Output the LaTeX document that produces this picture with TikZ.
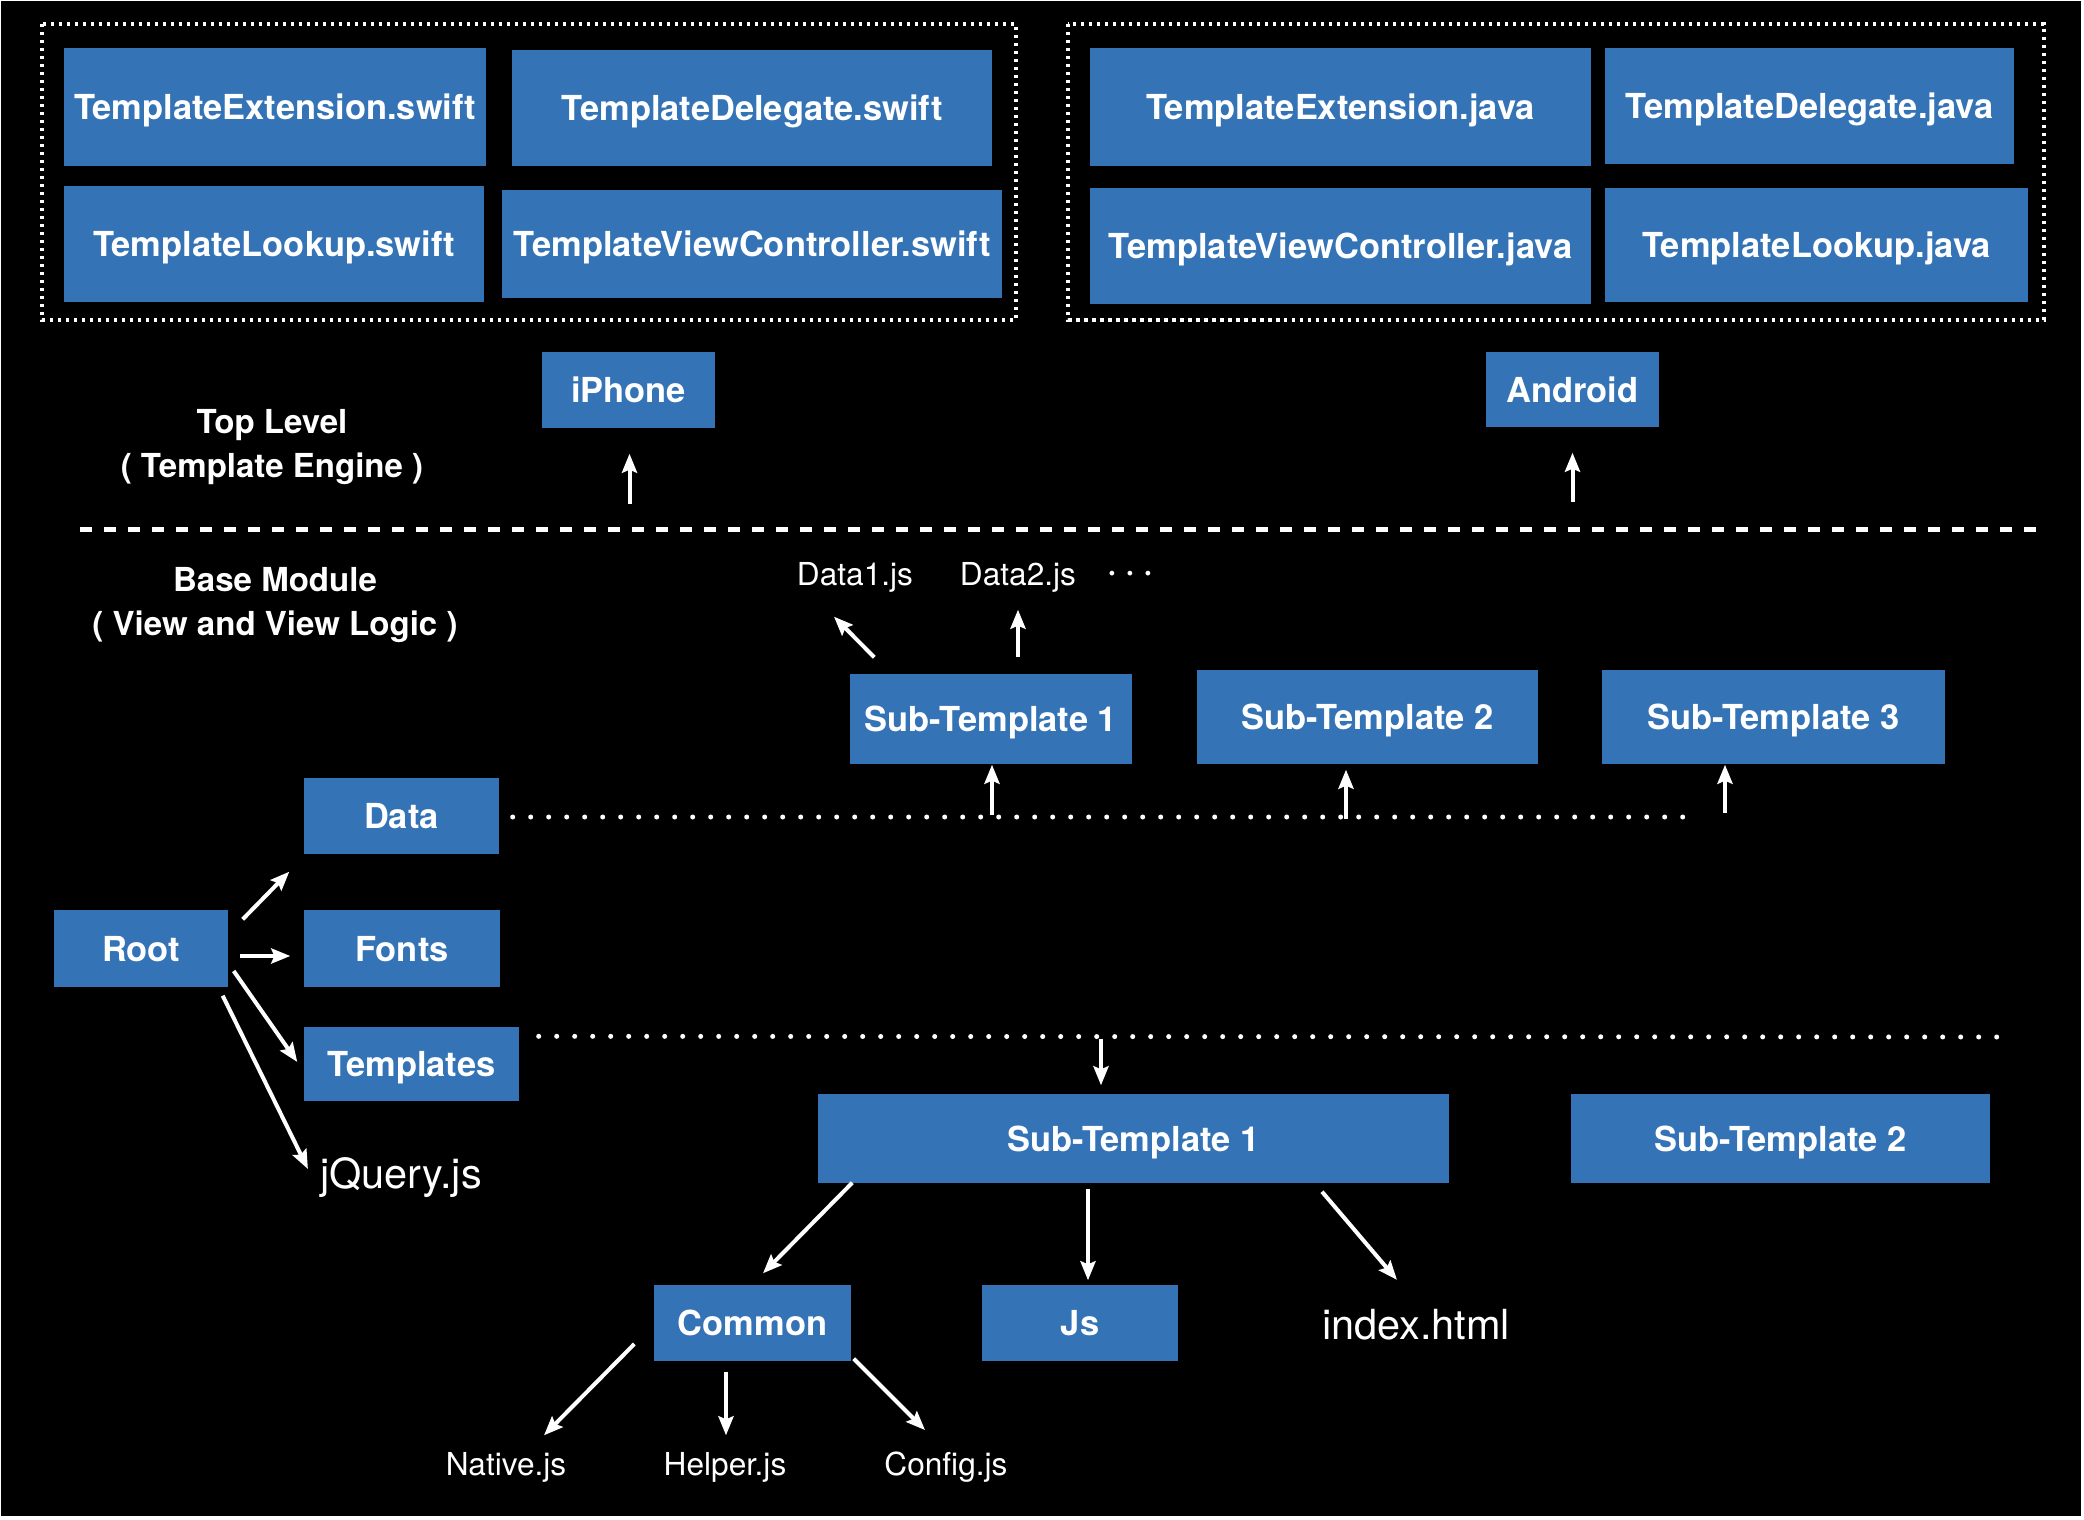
\documentclass[tikz,border=0pt]{standalone}
\usepackage{fontspec}
\setmainfont{TeX Gyre Heros}
\usetikzlibrary{arrows.meta}
\definecolor{tileblue}{HTML}{3473B5}

\tikzset{
  tile/.style={fill=tileblue, text=white, inner sep=0pt, text depth=0pt, font=\fontsize{9.8}{12}\selectfont\bfseries},
  tilesize/.style 2 args={minimum width=#1, minimum height=#2},
  plain/.style={text=white, inner sep=0pt, font=\fontsize{9}{11}\selectfont},
  bigplain/.style={text=white, inner sep=0pt, font=\fontsize{11.8}{14}\selectfont},
  caption/.style={text=white, align=center, inner sep=0pt, font=\fontsize{9.4}{12.5}\selectfont\bfseries},
  arr/.style={draw=white, line width=0.4mm, -{Stealth[length=1.9mm,width=1.5mm,inset=0.3mm]}},
  groupline/.style={draw=white, line width=0.35mm, dash pattern=on 0.35mm off 0.45mm},
  dotline/.style={draw=white, line width=0.5mm, line cap=round, dash pattern=on 0pt off 1.8mm},
  divline/.style={draw=white, line width=0.5mm, dash pattern=on 1.2mm off 1.2mm},
}

\begin{document}
\begin{tikzpicture}[x=0.1mm, y=-0.1mm]
  % canvas
  \fill[white] (0,0) rectangle (2084,1520);
  \fill[black] (1,1) rectangle (2081,1516);
  \useasboundingbox (0,0) rectangle (2084,1520);

  % iOS sources
  \draw[groupline] (42,24) rectangle (1016,320);
  \node[tile, tilesize={4.22cm}{1.18cm}] (extswift) at (275,107) {TemplateExtension.swift};
  \node[tile, tilesize={4.80cm}{1.16cm}] (delswift) at (752,108) {TemplateDelegate.swift};
  \node[tile, tilesize={4.20cm}{1.16cm}] (lookswift) at (274,244) {TemplateLookup.swift};
  \node[tile, tilesize={5.00cm}{1.08cm}] (vcswift) at (752,244) {TemplateViewController.swift};

  % Android sources
  \draw[groupline] (1068,24) rectangle (2044,320);
  \node[tile, tilesize={5.01cm}{1.18cm}] (extjava) at (1340.5,107) {TemplateExtension.java};
  \node[tile, tilesize={4.09cm}{1.16cm}] (deljava) at (1809.5,106) {TemplateDelegate.java};
  \node[tile, tilesize={5.01cm}{1.16cm}] (vcjava) at (1340.5,246) {TemplateViewController.java};
  \node[tile, tilesize={4.23cm}{1.14cm}] (lookjava) at (1816.5,245) {TemplateLookup.java};

  % Top level
  \node[tile, tilesize={1.73cm}{0.76cm}] (iphone) at (628.5,390) {iPhone};
  \node[tile, tilesize={1.73cm}{0.75cm}] (android) at (1572.5,389.5) {Android};
  \node[caption] (toplevel) at (272,447) {Top Level\\( Template Engine )};
  \draw[arr] ([shift={(1,75)}]iphone.south) -- ([shift={(1,25)}]iphone.south);
  \draw[arr] ([shift={(0,74)}]android.south) -- ([shift={(0,25)}]android.south);

  % divider
  \draw[divline] (80,529) -- (2036,529);

  % Base module
  \node[caption] (basemodule) at (275,605) {Base Module\\( View and View Logic )};
  \node[plain] (data1) at (855,577) {Data1.js};
  \node[plain] (data2) at (1018,577) {Data2.js};
  \node[plain, font=\fontsize{9}{11}\selectfont\bfseries] (moredata) at (1130,576) {·\hspace{2.6pt}·\hspace{2.6pt}·};

  \node[tile, tilesize={2.82cm}{0.90cm}] (subA1) at (991,719) {Sub-Template 1};
  \node[tile, tilesize={3.41cm}{0.94cm}] (subA2) at (1367.5,717) {Sub-Template 2};
  \node[tile, tilesize={3.43cm}{0.94cm}] (subA3) at (1773.5,717) {Sub-Template 3};
  \draw[arr] ([shift={(25,-16)}]subA1.north west) -- ([shift={(-21,24)}]data1.south);
  \draw[arr] ([shift={(27,-16)}]subA1.north) -- ([shift={(0,17)}]data2.south);

  % Root tree
  \node[tile, tilesize={1.74cm}{0.77cm}] (root) at (141,948.5) {Root};
  \node[tile, tilesize={1.95cm}{0.76cm}] (data) at (401.5,816) {Data};
  \node[tile, tilesize={1.96cm}{0.77cm}] (fonts) at (402,948.5) {Fonts};
  \node[tile, tilesize={2.15cm}{0.74cm}] (templates) at (411.5,1064) {Templates};
  \node[bigplain] (jquery) at (401,1178) {jQuery.js};
  \draw[arr] ([shift={(14,10)}]root.north east) -- ([shift={(-14,17)}]data.south west);
  \draw[arr] ([shift={(11,7.5)}]root.east) -- ([shift={(-13,7.5)}]fonts.west);
  \draw[arr] ([shift={(5,22.5)}]root.east) -- ([shift={(-6,-2)}]templates.west);
  \draw[arr] ([shift={(-6,8)}]root.south east) -- ([shift={(-11.5,-9)}]jquery.west);

  % Data -> sub-templates
  \draw[dotline] ([shift={(13,1)}]data.east) -- (1685,817);
  \draw[arr] ([shift={(1,50)}]subA1.south) -- ([shift={(1,0)}]subA1.south);
  \draw[arr] ([shift={(-21.5,54)}]subA2.south) -- ([shift={(-21.5,5)}]subA2.south);
  \draw[arr] ([shift={(-48.5,48)}]subA3.south) -- ([shift={(-48.5,0)}]subA3.south);

  % Templates -> sub-templates
  \node[tile, tilesize={6.31cm}{0.89cm}] (subB1) at (1133.5,1138.5) {Sub-Template 1};
  \node[tile, tilesize={4.19cm}{0.89cm}] (subB2) at (1780.5,1138.5) {Sub-Template 2};
  \draw[dotline] ([shift={(19,10)}]templates.north east) -- (1999,1037);
  \draw[arr] ([shift={(-32.5,-54)}]subB1.north) -- ([shift={(-32.5,-8)}]subB1.north);

  % Sub-template contents
  \node[tile, tilesize={1.97cm}{0.76cm}] (common) at (752.5,1323) {Common};
  \node[tile, tilesize={1.96cm}{0.76cm}] (js) at (1080,1323) {Js};
  \node[bigplain] (index) at (1416,1325) {index.html};
  \draw[arr] ([shift={(35,-1)}]subB1.south west) -- ([shift={(10.5,-11)}]common.north);
  \draw[arr] ([shift={(-45.5,5)}]subB1.south) -- ([shift={(8,-4)}]js.north);
  \draw[arr] ([shift={(188.5,8)}]subB1.south) -- ([shift={(-19,-29)}]index.north);

  % Common contents
  \node[plain] (native) at (506,1467) {Native.js};
  \node[plain] (helper) at (725,1467) {Helper.js};
  \node[plain] (config) at (946,1467) {Config.js};
  \draw[arr] ([shift={(-19,21)}]common.west) -- ([shift={(38,-16)}]native.north);
  \draw[arr] ([shift={(-26.5,10)}]common.south) -- ([shift={(1,-16)}]helper.north);
  \draw[arr] ([shift={(2,-3)}]common.south east) -- ([shift={(-21,-21)}]config.north);
\end{tikzpicture}
\end{document}
